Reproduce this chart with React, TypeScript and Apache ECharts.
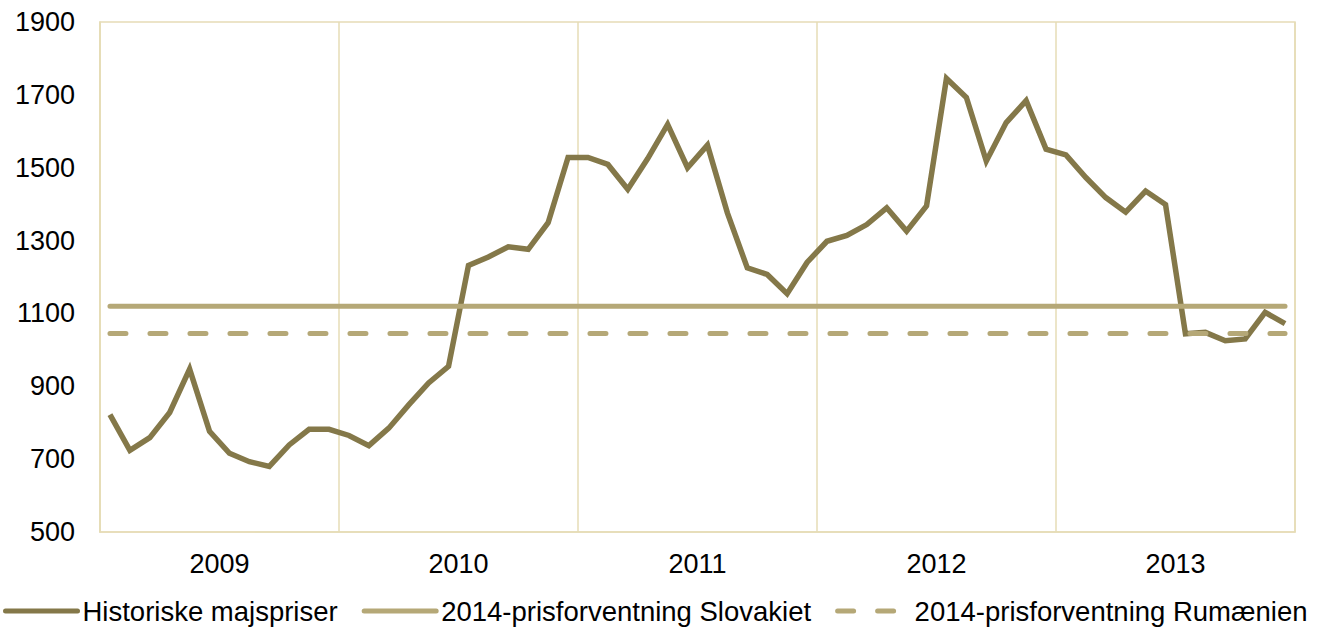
import React, { useEffect, useRef } from "react";
import * as echarts from "echarts";

const years = ["2009", "2010", "2011", "2012", "2013"];
const monthNumbers = ["01", "02", "03", "04", "05", "06", "07", "08", "09", "10", "11", "12"];

// Historical maize prices, monthly 2009-2013
const historicPrices = [
  822, 724, 759, 828, 947, 776, 716, 693, 680, 739, 782, 782,
  765, 737, 785, 849, 909, 955, 1232, 1255, 1283, 1276, 1349, 1528,
  1528, 1509, 1441, 1525, 1619, 1500, 1562, 1376, 1225, 1207, 1154, 1240,
  1298, 1314, 1344, 1390, 1326, 1395, 1745, 1693, 1518, 1624, 1684, 1551,
  1535, 1473, 1418, 1378, 1436, 1399, 1044, 1048, 1025, 1030, 1103, 1072,
];

const slovakietForecast = 1120;
const rumaenienForecast = 1045;

const yTicks = { min: 500, max: 1900, interval: 200 };

const seriesNames = [
  "Historiske majspriser",
  "2014-prisforventning Slovakiet",
  "2014-prisforventning Rumænien",
];

const FONT = "'Liberation Sans', Arial, sans-serif";

export default function App() {
  const ref = useRef<HTMLDivElement>(null);

  useEffect(() => {
    if (!ref.current) return;
    const chart = echarts.init(ref.current, null, { renderer: "svg" });
    const months: string[] = [];
    years.forEach((y) => monthNumbers.forEach((m) => months.push(`${y}-${m}`)));
    const slovakiet = months.map(() => slovakietForecast);
    const rumaenien = months.map(() => rumaenienForecast);

    const gridColor = "#E6DCB6";
    const mainColor = "#847849";
    const forecastColor = "#B5A877";

    chart.setOption({
      animation: false,
      backgroundColor: "#fff",
      textStyle: { fontFamily: FONT },
      grid: {
        left: 100,
        right: 38,
        top: 22,
        bottom: 98,
        show: true,
        borderColor: gridColor,
        borderWidth: 1.5,
      },
      legend: {
        left: 3,
        top: 597,
        padding: 0,
        itemWidth: 72,
        itemHeight: 14,
        itemGap: 24,
        itemStyle: { opacity: 0 },
        lineStyle: { width: 5, cap: "round" },
        textStyle: { fontFamily: FONT, fontSize: 27.5, color: "#000" },
        data: seriesNames,
      },
      xAxis: [
        {
          type: "category",
          data: months,
          boundaryGap: true,
          show: false,
        },
        {
          type: "category",
          data: years,
          position: "bottom",
          boundaryGap: true,
          axisLine: { show: true, lineStyle: { color: gridColor, width: 1.5 } },
          axisTick: { show: false },
          splitLine: { show: true, lineStyle: { color: gridColor, width: 1.5 } },
          axisLabel: { fontFamily: FONT, fontSize: 27, color: "#000", margin: 18 },
        },
      ],
      yAxis: {
        type: "value",
        min: yTicks.min,
        max: yTicks.max,
        interval: yTicks.interval,
        axisLine: { show: true, lineStyle: { color: gridColor, width: 1.5 } },
        axisTick: { show: false },
        splitLine: { show: false },
        axisLabel: {
          fontFamily: FONT,
          fontSize: 27,
          color: "#000",
          margin: 25,
          formatter: (v: number) => String(v),
        },
      },
      series: [
        {
          name: seriesNames[0],
          type: "line",
          xAxisIndex: 0,
          data: historicPrices,
          symbol: "none",
          lineStyle: { color: mainColor, width: 5.5, join: "miter" },
          itemStyle: { color: mainColor },
        },
        {
          name: seriesNames[1],
          type: "line",
          xAxisIndex: 0,
          data: slovakiet,
          symbol: "none",
          lineStyle: { color: forecastColor, width: 5, cap: "round" },
          itemStyle: { color: forecastColor },
        },
        {
          name: seriesNames[2],
          type: "line",
          xAxisIndex: 0,
          data: rumaenien,
          symbol: "none",
          lineStyle: {
            color: forecastColor,
            width: 5,
            type: [16, 24],
            cap: "round",
          },
          itemStyle: { color: forecastColor },
        },
      ],
    });
    return () => chart.dispose();
  }, []);

  return (
    <div
      ref={ref}
      style={{ position: "fixed", left: 0, top: 0, width: 1333, height: 630 }}
    />
  );
}
